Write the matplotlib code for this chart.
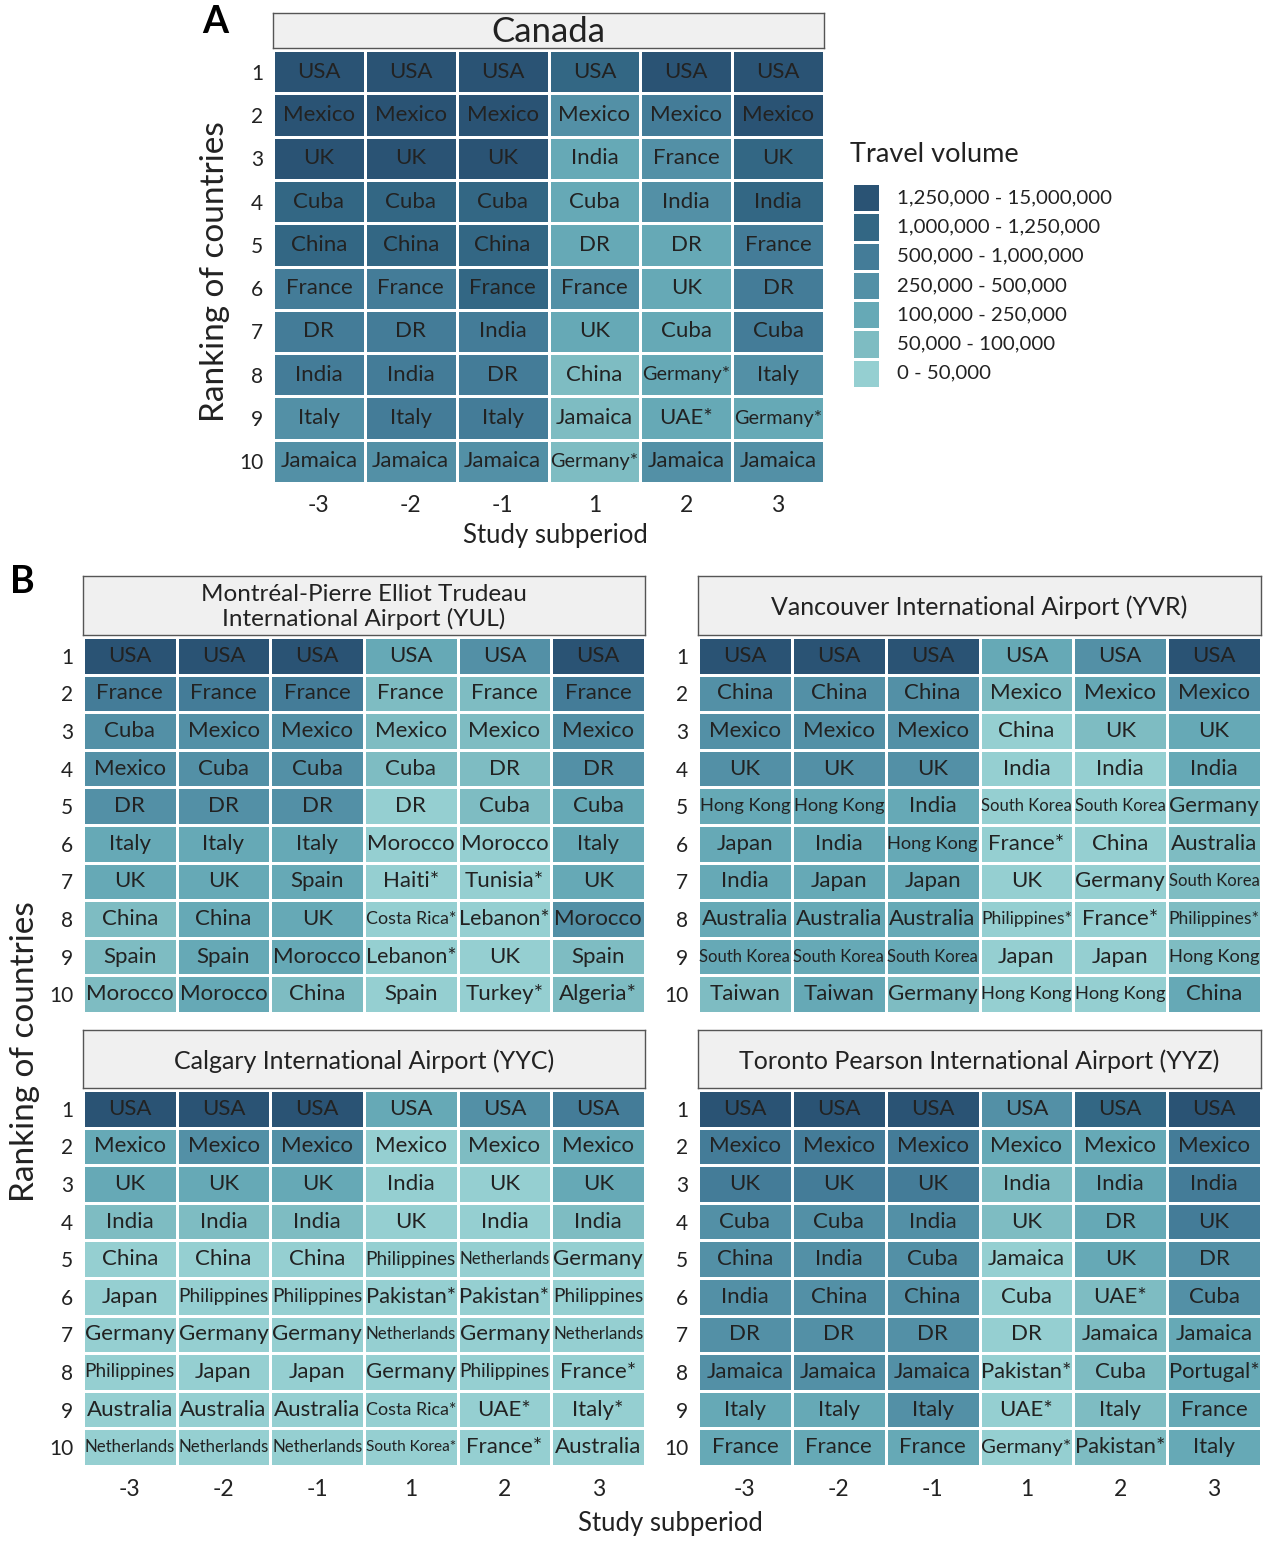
import matplotlib
matplotlib.use("Agg")
import matplotlib.pyplot as plt
import numpy as np
from matplotlib.colors import ListedColormap, BoundaryNorm

plt.rcParams['font.family'] = ['Lato', 'DejaVu Sans']

W, H = 1275, 1546

# ---------------- data ----------------
subperiods = ["-3", "-2", "-1", "1", "2", "3"]
ranks = [str(i) for i in range(1, 11)]

legend_labels = ["1,250,000 - 15,000,000", "1,000,000 - 1,250,000", "500,000 - 1,000,000",
                 "250,000 - 500,000", "100,000 - 250,000", "50,000 - 100,000", "0 - 50,000"]
level_colors = ['#95CFD1', '#7EBCC2', '#66A9B6', '#5390A6', '#447C98', '#336784', '#2A5374']

canada_names = [
    ["USA", "USA", "USA", "USA", "USA", "USA"],
    ["Mexico", "Mexico", "Mexico", "Mexico", "Mexico", "Mexico"],
    ["UK", "UK", "UK", "India", "France", "UK"],
    ["Cuba", "Cuba", "Cuba", "Cuba", "India", "India"],
    ["China", "China", "China", "DR", "DR", "France"],
    ["France", "France", "France", "France", "UK", "DR"],
    ["DR", "DR", "India", "UK", "Cuba", "Cuba"],
    ["India", "India", "DR", "China", "Germany*", "Italy"],
    ["Italy", "Italy", "Italy", "Jamaica", "UAE*", "Germany*"],
    ["Jamaica", "Jamaica", "Jamaica", "Germany*", "Jamaica", "Jamaica"],
]
canada_levels = [
    [6, 6, 6, 5, 6, 6],
    [6, 6, 6, 3, 4, 6],
    [6, 6, 6, 2, 3, 5],
    [5, 5, 5, 2, 3, 5],
    [5, 5, 5, 2, 2, 4],
    [4, 4, 5, 3, 2, 4],
    [4, 4, 4, 2, 2, 4],
    [4, 4, 4, 1, 2, 3],
    [3, 4, 4, 1, 2, 2],
    [3, 3, 3, 1, 3, 3],
]

yul_names = [
    ["USA", "USA", "USA", "USA", "USA", "USA"],
    ["France", "France", "France", "France", "France", "France"],
    ["Cuba", "Mexico", "Mexico", "Mexico", "Mexico", "Mexico"],
    ["Mexico", "Cuba", "Cuba", "Cuba", "DR", "DR"],
    ["DR", "DR", "DR", "DR", "Cuba", "Cuba"],
    ["Italy", "Italy", "Italy", "Morocco", "Morocco", "Italy"],
    ["UK", "UK", "Spain", "Haiti*", "Tunisia*", "UK"],
    ["China", "China", "UK", "Costa Rica*", "Lebanon*", "Morocco"],
    ["Spain", "Spain", "Morocco", "Lebanon*", "UK", "Spain"],
    ["Morocco", "Morocco", "China", "Spain", "Turkey*", "Algeria*"],
]
yul_levels = [
    [6, 6, 6, 2, 3, 6],
    [4, 4, 4, 1, 1, 4],
    [3, 3, 3, 1, 1, 3],
    [3, 3, 3, 1, 1, 3],
    [3, 3, 3, 0, 1, 2],
    [2, 2, 2, 0, 0, 2],
    [2, 2, 2, 0, 0, 2],
    [1, 2, 2, 0, 0, 3],
    [1, 2, 2, 0, 0, 1],
    [1, 2, 1, 0, 0, 1],
]

yvr_names = [
    ["USA", "USA", "USA", "USA", "USA", "USA"],
    ["China", "China", "China", "Mexico", "Mexico", "Mexico"],
    ["Mexico", "Mexico", "Mexico", "China", "UK", "UK"],
    ["UK", "UK", "UK", "India", "India", "India"],
    ["Hong Kong", "Hong Kong", "India", "South Korea", "South Korea", "Germany"],
    ["Japan", "India", "Hong Kong", "France*", "China", "Australia"],
    ["India", "Japan", "Japan", "UK", "Germany", "South Korea"],
    ["Australia", "Australia", "Australia", "Philippines*", "France*", "Philippines*"],
    ["South Korea", "South Korea", "South Korea", "Japan", "Japan", "Hong Kong"],
    ["Taiwan", "Taiwan", "Germany", "Hong Kong", "Hong Kong", "China"],
]
yvr_levels = [
    [6, 6, 6, 2, 3, 6],
    [3, 3, 3, 1, 2, 3],
    [3, 3, 3, 0, 1, 2],
    [3, 3, 3, 0, 0, 2],
    [2, 2, 2, 0, 0, 1],
    [2, 2, 2, 0, 0, 1],
    [2, 2, 2, 0, 0, 1],
    [2, 2, 2, 0, 0, 1],
    [2, 2, 2, 0, 0, 1],
    [1, 2, 1, 0, 0, 2],
]

yyc_names = [
    ["USA", "USA", "USA", "USA", "USA", "USA"],
    ["Mexico", "Mexico", "Mexico", "Mexico", "Mexico", "Mexico"],
    ["UK", "UK", "UK", "India", "UK", "UK"],
    ["India", "India", "India", "UK", "India", "India"],
    ["China", "China", "China", "Philippines", "Netherlands", "Germany"],
    ["Japan", "Philippines", "Philippines", "Pakistan*", "Pakistan*", "Philippines"],
    ["Germany", "Germany", "Germany", "Netherlands", "Germany", "Netherlands"],
    ["Philippines", "Japan", "Japan", "Germany", "Philippines", "France*"],
    ["Australia", "Australia", "Australia", "Costa Rica*", "UAE*", "Italy*"],
    ["Netherlands", "Netherlands", "Netherlands", "South Korea*", "France*", "Australia"],
]
yyc_levels = [
    [6, 6, 6, 2, 3, 4],
    [2, 3, 3, 0, 1, 2],
    [2, 2, 2, 0, 0, 2],
    [1, 1, 1, 0, 0, 1],
    [0, 0, 0, 0, 0, 0],
    [0, 0, 0, 0, 0, 0],
    [0, 0, 0, 0, 0, 0],
    [0, 0, 0, 0, 0, 0],
    [0, 0, 0, 0, 0, 0],
    [0, 0, 0, 0, 0, 0],
]

yyz_names = [
    ["USA", "USA", "USA", "USA", "USA", "USA"],
    ["Mexico", "Mexico", "Mexico", "Mexico", "Mexico", "Mexico"],
    ["UK", "UK", "UK", "India", "India", "India"],
    ["Cuba", "Cuba", "India", "UK", "DR", "UK"],
    ["China", "India", "Cuba", "Jamaica", "UK", "DR"],
    ["India", "China", "China", "Cuba", "UAE*", "Cuba"],
    ["DR", "DR", "DR", "DR", "Jamaica", "Jamaica"],
    ["Jamaica", "Jamaica", "Jamaica", "Pakistan*", "Cuba", "Portugal*"],
    ["Italy", "Italy", "Italy", "UAE*", "Italy", "France"],
    ["France", "France", "France", "Germany*", "Pakistan*", "Italy"],
]
yyz_levels = [
    [6, 6, 6, 3, 5, 6],
    [4, 4, 4, 2, 2, 4],
    [4, 4, 4, 1, 2, 4],
    [3, 3, 3, 1, 2, 4],
    [3, 3, 3, 0, 2, 3],
    [3, 3, 3, 0, 1, 3],
    [3, 3, 3, 0, 1, 2],
    [3, 3, 3, 0, 1, 2],
    [2, 2, 3, 0, 1, 2],
    [2, 2, 2, 0, 1, 2],
]

# ---------------- figure ----------------
fig = plt.figure(figsize=(W / 100, H / 100), dpi=100)
renderer = fig.canvas.get_renderer()

cmap = ListedColormap(level_colors)
norm = BoundaryNorm(np.arange(-0.5, 7.5, 1), cmap.N)
TXT = '#222222'


def px_axes(left, top, right, bottom):
    return fig.add_axes([left / W, 1 - bottom / H, (right - left) / W, (bottom - top) / H])


def strip(left, top, right, bottom, title, fs):
    ax = px_axes(left, top, right, bottom)
    ax.set_facecolor('#F0F0F0')
    ax.set_xticks([])
    ax.set_yticks([])
    for s in ax.spines.values():
        s.set_color('#555555')
        s.set_linewidth(1.0)
    ax.text(0.5, 0.47, title, ha='center', va='center', fontsize=fs, color=TXT,
            transform=ax.transAxes, linespacing=1.15)


def heat(left, top, right, bottom, names, levels, base_fs, tick_fs, show_x=True):
    ax = px_axes(left, top, right, bottom)
    lv = np.array(levels)
    ax.pcolormesh(np.arange(7), np.arange(11), lv, cmap=cmap, norm=norm,
                  edgecolors='white', linewidth=1.8)
    ax.set_xlim(0, 6)
    ax.set_ylim(10, 0)
    if show_x:
        ax.set_xticks(np.arange(6) + 0.5, subperiods)
    else:
        ax.set_xticks([])
    ax.set_yticks(np.arange(10) + 0.5, ranks)
    ax.tick_params(length=0, labelsize=tick_fs, colors=TXT)
    ax.tick_params(axis='x', pad=9, labelsize=tick_fs + 1.5)
    ax.tick_params(axis='y', pad=7)
    for s in ax.spines.values():
        s.set_visible(False)
    cell_w = (right - left) / 6 - 3
    for i in range(10):
        for j in range(6):
            t = ax.text(j + 0.5, i + 0.5, names[i][j], ha='center', va='center',
                        fontsize=base_fs, color=TXT)
            w = t.get_window_extent(renderer).width
            if w > cell_w:
                t.set_fontsize(base_fs * cell_w / w)
    return ax


# Panel A
strip(273, 13, 824, 48, "Canada", 25)
heat(273, 50, 824, 483, canada_names, canada_levels, 16, 15)
fig.text(215 / W, 1 - 272 / H, "Ranking of countries", rotation=90, ha='center', va='center',
         fontsize=24, color=TXT)
fig.text(555 / W, 1 - 536 / H, "Study subperiod", ha='center', va='center', fontsize=18.5, color=TXT)
fig.text(215 / W, 1 - 22 / H, "A", ha='center', va='center', fontsize=27, fontweight='bold', color='black')

# Legend
fig.text(850 / W, 1 - 155 / H, "Travel volume", ha='left', va='center', fontsize=19.5, color=TXT)
lax = px_axes(852, 183, 880, 388)
lax.pcolormesh(np.arange(2), np.arange(8), np.arange(6, -1, -1).reshape(7, 1), cmap=cmap, norm=norm,
               edgecolors='white', linewidth=1.0)
lax.set_xlim(0, 1)
lax.set_ylim(7, 0)
lax.set_xticks([])
lax.set_yticks([])
for s in lax.spines.values():
    s.set_visible(False)
for k, lab in enumerate(legend_labels):
    lax.text(1 + 17 / 28, k + 0.5, lab, ha='left', va='center', fontsize=14.7, color=TXT)

# Panel B
fig.text(22 / W, 1 - 582 / H, "B", ha='center', va='center', fontsize=27, fontweight='bold', color='black')
strip(83, 576, 645, 635, "Montréal-Pierre Elliot Trudeau\nInternational Airport (YUL)", 17.5)
heat(83, 637, 645, 1013, yul_names, yul_levels, 16, 15, show_x=False)
strip(698, 576, 1261, 635, "Vancouver International Airport (YVR)", 18)
heat(698, 637, 1261, 1013, yvr_names, yvr_levels, 16, 15, show_x=False)
strip(83, 1030, 645, 1088, "Calgary International Airport (YYC)", 18)
heat(83, 1090, 645, 1466, yyc_names, yyc_levels, 16, 15)
strip(698, 1030, 1261, 1088, "Toronto Pearson International Airport (YYZ)", 18)
heat(698, 1090, 1261, 1466, yyz_names, yyz_levels, 16, 15)

fig.text(25 / W, 1 - 1052 / H, "Ranking of countries", rotation=90, ha='center', va='center',
         fontsize=24, color=TXT)
fig.text(670 / W, 1 - 1524 / H, "Study subperiod", ha='center', va='center', fontsize=18.5, color=TXT)

fig.savefig("out.png", dpi=100, facecolor='white')
